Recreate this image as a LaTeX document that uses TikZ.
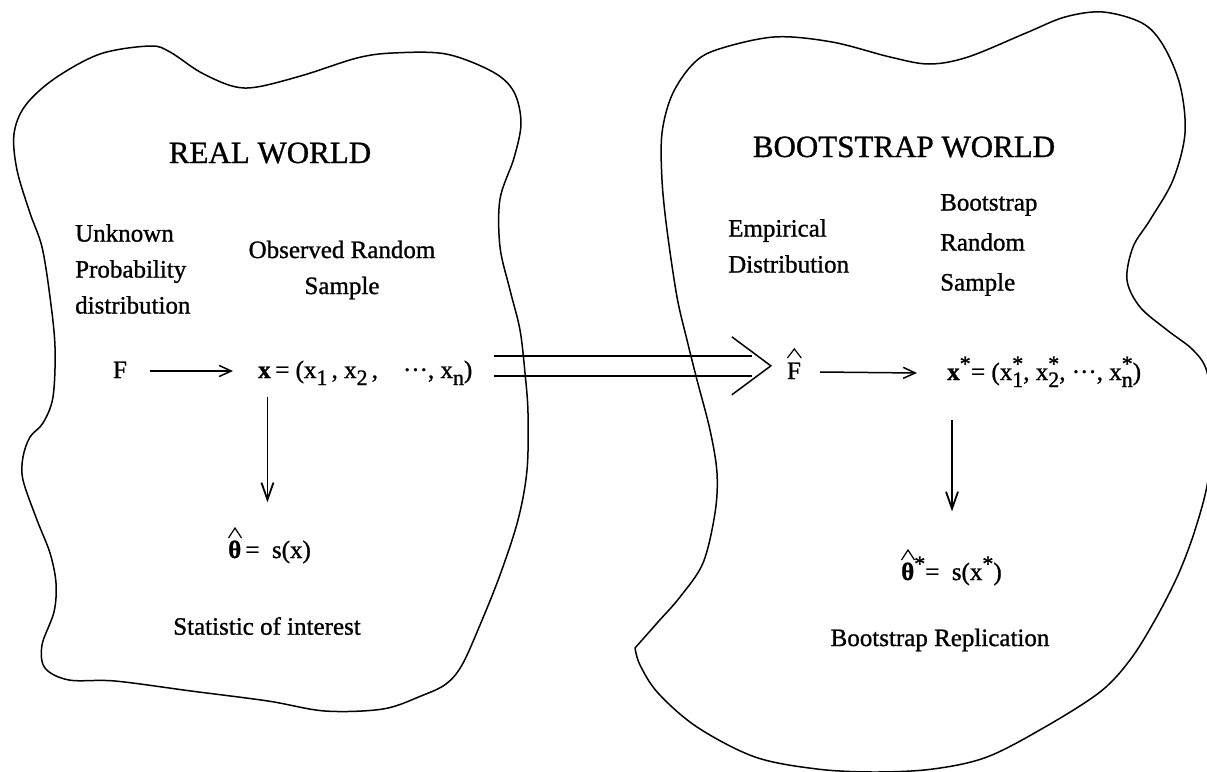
\documentclass[tikz,border=0pt]{standalone}
\usepackage{fontspec}
\setmainfont{Liberation Serif}[FakeBold=1]
\usetikzlibrary{positioning,calc,arrows.meta}
\tikzset{
  pointer/.style={-{Straight Barb[length=12pt,width=11pt]}, line width=1.5pt},
  downptr/.style={-{Straight Barb[length=17pt,width=12pt]}, line width=1.8pt},
  hat/.style={line width=1.2pt},
}
\newcommand{\lo}[1]{\raisebox{-7pt}{\fontsize{22}{22}\selectfont #1}}
\newcommand{\hi}[1]{\raisebox{9pt}{\fontsize{22}{22}\selectfont #1}}
\newcommand{\losup}[2]{\rlap{\raisebox{9pt}{\fontsize{22}{22}\selectfont #2}}\raisebox{-7pt}{\fontsize{22}{22}\selectfont #1}}

\begin{document}
\begin{tikzpicture}[x=1pt,y=-1pt,
            world/.style={line width=1.5pt},
            heading/.style={inner sep=0pt,font=\fontsize{31}{31}\selectfont},
            note/.style={inner sep=0pt,align=left,font=\fontsize{25}{36}\selectfont},
            formula/.style={inner sep=0pt,font=\fontsize{25}{30}\selectfont}]
            \useasboundingbox (0,0) rectangle (1207,771);
            \fill[white] (0,0) rectangle (1207,771);

            % the two worlds
            \draw[world] plot[smooth cycle,tension=0.55] coordinates {
                (14,134) (25,106) (54,79) (100,54) (150,46) (170,52) (200,72) (232,86)
                (257,87) (304,75) (357,58) (393,53) (446,54) (493,72) (514,92) (521,123)
                (514,158) (500,199) (500,247) (510,290) (520,330) (525,373) (528,413)
                (527,470) (518,520) (500,575) (480,625) (462,665) (446,684) (421,696)
                (383,709) (325,711) (268,701) (191,691) (115,681) (69,680) (45,668)
                (42,645) (54,612) (56,583) (50,553) (37,520) (23,480) (23,457) (30,437)
                (43,423) (53,397) (55,347) (50,297) (42,247) (30,213) (17,170)};
            \draw[world] plot[smooth,tension=0.55] coordinates {
                (635,648) (658,622) (680,597) (703,563) (715,513) (717,473) (710,430)
                (697,380) (687,340) (677,297) (667,230) (662,180) (662,133) (672,95)
                (692,65) (716,50) (774,37) (832,42) (890,57) (929,64) (968,57) (1026,33)
                (1065,17) (1103,12) (1142,23) (1163,45) (1180,85) (1185,133) (1173,180)
                (1150,220) (1133,247) (1127,280) (1140,307) (1167,330) (1193,350)
                (1207,372) (1212,420) (1208,480) (1195,530) (1178,575) (1155,620)
                (1130,660) (1100,692) (1045,727) (987,757) (933,769) (875,772) (817,769)
                (755,757) (697,727) (658,693) (640,665) (635,648)};

            \node[heading] (realw) at (270,153) {REAL WORLD};
            \node[heading] (bootw) at (904,147) {BOOTSTRAP WORLD};

            \node[note,anchor=west] (unknown) at (75,269) {Unknown\\Probability\\distribution};
            \node[note,align=center] (observed) at (342,270) {Observed Random\\Sample};
            \node[note,anchor=west] (empirical) at (728,246) {Empirical\\Distribution};
            \node[note,anchor=west] (bsample) at (940,245) {Bootstrap\\[4pt]Random\\[4pt]Sample};

            % real world row
            \node[formula,anchor=base] (F) at (120,378) {F};
            \node[formula,anchor=base west] (xv) at (258,378) {\textbf{x}};
            \node[formula,right=0pt of xv.base east,anchor=base west] (xrow) {\,= (x\lo{1}\,, x\lo{2}\,,\quad ···, x\lo{n})};
            \node[formula,anchor=base west] (theta) at (228,558) {\textbf{θ}\,= \ s(x)};
            \node[note] (stat) at (267,626) {Statistic of interest};

            % bootstrap world row
            \node[formula,anchor=base] (Fhat) at (794,379) {F};
            \node[formula,anchor=base west] (xs) at (947,380) {\textbf{x}\hi{*}};
            \node[formula,right=0pt of xs.base east,anchor=base west] (xsrow) {= (x\losup{1}{*}, x\losup{2}{*}, ···, x\losup{n}{*})};
            \node[formula,anchor=base west] (thetas) at (901,580) {\textbf{θ}\hi{*}= \ s(x\hi{*})};
            \node[note] (brep) at (940,640) {Bootstrap Replication};

            % hats
            \draw[hat] ($(theta.base west)+(0.5,-20)$) -- ++(6.5,-10) -- ++(6.5,10);
            \draw[hat] ($(thetas.base west)+(0.5,-20)$) -- ++(6.5,-10) -- ++(6.5,10);
            \draw[hat] ($(Fhat.base west)+(0.5,-21)$) -- ++(7,-9) -- ++(7,9);

            \draw[pointer] ($(F.base east)+(23,-7)$) -- ($(xv.base west)+(-25,-7)$);
            \draw[pointer] ($(Fhat.base east)+(19,-7)$) -- ($(xs.base west)+(-30,-7)$);
            \draw[downptr] ($(xv.base)+(3,19)$) -- ($(xv.base |- theta.north)+(3,-38)$);
            \draw[downptr] ($(xs.base west)+(5,40)$) -- ($(xs.base west |- thetas.north)+(5,-45)$);

            % plug-in step
            \coordinate (dbl) at ($(xrow.east |- F.center)+(21,-4)$);
            \coordinate (tip) at ($(Fhat.west |- F.center)+(-16,-4)$);
            \draw[line width=1.5pt] ($(dbl)+(0,-10)$) -- ($(tip)+(-19,-10)$);
            \draw[line width=1.5pt] ($(dbl)+(0,10)$) -- ($(tip)+(-19,10)$);
            \draw[line width=1.5pt] ($(tip)+(-39,-29)$) -- (tip) -- ($(tip)+(-39,29)$);
\end{tikzpicture}
\end{document}
